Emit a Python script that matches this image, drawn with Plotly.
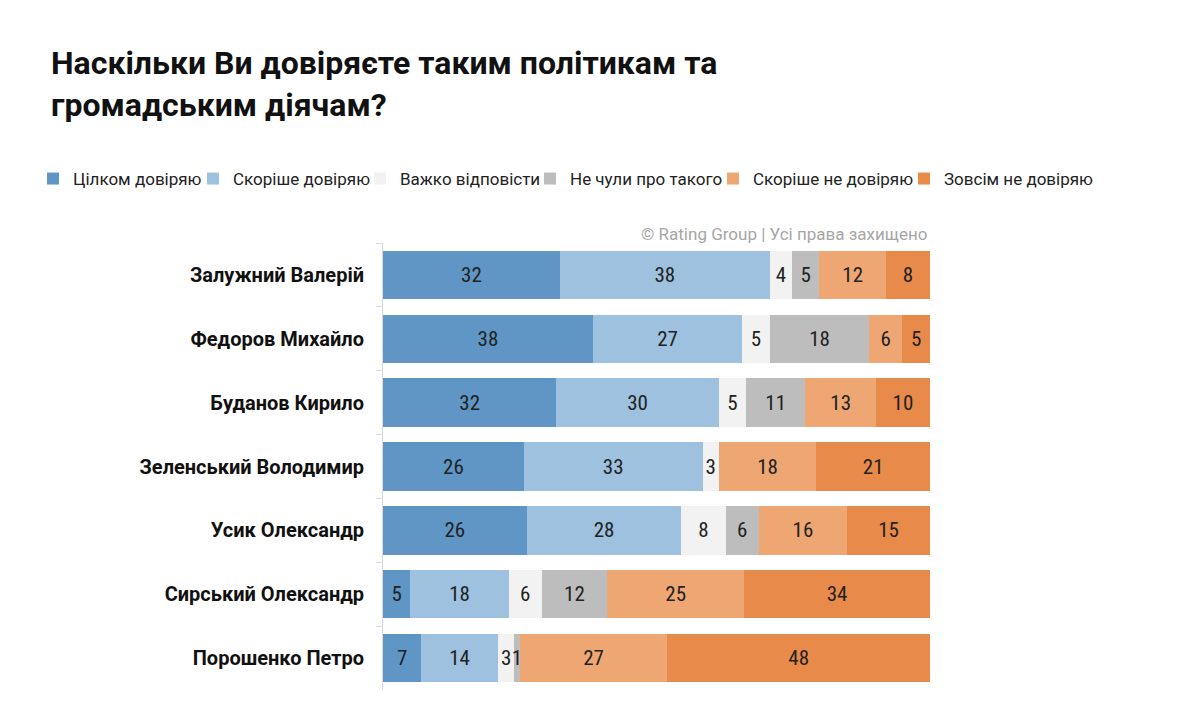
import plotly.graph_objects as go

names = ["Залужний Валерій", "Федоров Михайло", "Буданов Кирило", "Зеленський Володимир",
         "Усик Олександр", "Сирський Олександр", "Порошенко Петро"]
series = ["Цілком довіряю", "Скоріше довіряю", "Важко відповісти", "Не чули про такого",
          "Скоріше не довіряю", "Зовсім не довіряю"]
full_trust = [32, 38, 32, 26, 26, 5, 7]
rather_trust = [38, 27, 30, 33, 28, 18, 14]
hard_say = [4, 5, 5, 3, 8, 6, 3]
not_heard = [5, 18, 11, 0, 6, 12, 1]
rather_distrust = [12, 6, 13, 18, 16, 25, 27]
full_distrust = [8, 5, 10, 21, 15, 34, 48]
colors = ["#5f96c6", "#9dc1df", "#f2f2f2", "#bdbdbd", "#eea772", "#e88a4a"]
legend_text_x = [69, 229, 396, 566, 749, 940]  # pixel x where each legend label starts

values = [full_trust, rather_trust, hard_say, not_heard, rather_distrust, full_distrust]
NARROW = "Liberation Sans Narrow, Roboto Condensed, Roboto, Arial"
FONT = "Roboto, Arial"

W, H = 1200, 716
L, R, T, B = 383, 270, 243, 26
PH = H - T - B

fig = go.Figure()
legends = {}
for i, (s, v, c) in enumerate(zip(series, values, colors)):
    lg = "legend" if i == 0 else f"legend{i+1}"
    fig.add_trace(go.Bar(
        y=names, x=v, name=s, orientation="h", legend=lg,
        marker=dict(color=c, line=dict(width=0)),
        text=[str(a) if a > 0 else "" for a in v],
        textposition="inside", insidetextanchor="middle",
        textfont=dict(color="#222222", size=21, family=NARROW),
    ))
    legends[lg] = dict(orientation="h", xref="container", yref="container",
                       x=(legend_text_x[i] - 36) / W, xanchor="left",
                       y=1 - 179 / H, yanchor="middle",
                       font=dict(size=17, family=FONT, color="#222222"),
                       itemwidth=30, bgcolor="rgba(0,0,0,0)")

fig.update_layout(
    width=W, height=H,
    barmode="stack", barnorm="percent", bargap=0.24,
    paper_bgcolor="white", plot_bgcolor="white",
    margin=dict(l=L, r=R, t=T, b=B, autoexpand=False),
    font=dict(family=FONT, color="#222222"),
    uniformtext=dict(minsize=21, mode="show"),
    showlegend=True,
    **legends,
)
fig.update_xaxes(range=[0, 100], visible=False, showgrid=False)
fig.update_yaxes(autorange="reversed", showgrid=False, showline=True, linecolor="#d9d9d9",
                 ticks="outside", tickson="boundaries", ticklen=6, tickcolor="#d9d9d9",
                 ticklabelstandoff=14,
                 tickfont=dict(size=20, family=FONT, color="#111111", weight="bold"))

title_text = "Наскільки Ви довіряєте таким політикам та<br>громадським діячам?"
fig.add_annotation(text=title_text, xref="paper", yref="paper", align="left",
                   x=(49 - L) / (W - L - R), xanchor="left",
                   y=1 + (T - 84) / PH, yanchor="middle", showarrow=False,
                   font=dict(size=32, family=FONT, color="#111111", weight="bold"))

fig.add_annotation(text="© Rating Group | Усі права захищено", xref="paper", yref="paper",
                   x=1, xanchor="right", y=1 + 9 / PH, yanchor="middle", showarrow=False,
                   font=dict(size=17, color="#a6a6a6", family=FONT))

fig.write_html("out.html")
